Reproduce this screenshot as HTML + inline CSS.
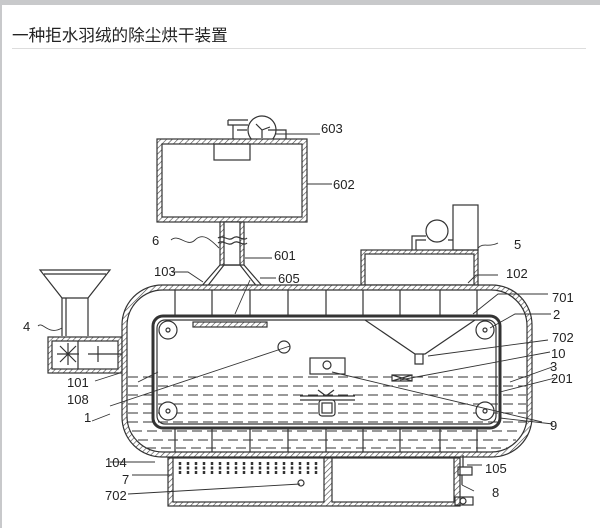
<!DOCTYPE html>
<html><head><meta charset="utf-8"><style>
html,body{margin:0;padding:0;background:#c8c9cb;}
.card{position:absolute;left:2px;top:5px;width:598px;height:523px;background:#fff;}
.t{position:absolute;left:12px;top:22px;font:16.6px "Liberation Sans","Noto Sans CJK SC",sans-serif;color:#222;}
.hr{position:absolute;left:12px;top:48px;width:574px;height:1px;background:#ddd;}
svg{position:absolute;left:0;top:0;}
text{font-family:"Liberation Sans",sans-serif;font-size:13px;fill:#222;}
</style></head><body>
<div class="card"></div>
<div class="t">一种拒水羽绒的除尘烘干装置</div>
<div class="hr"></div>
<svg width="600" height="528" viewBox="0 0 600 528">
<defs>
<pattern id="h" width="4" height="4" patternUnits="userSpaceOnUse" patternTransform="rotate(45)">
<rect width="4" height="4" fill="#fff"/><line x1="0" y1="0" x2="0" y2="4" stroke="#444" stroke-width="1.2"/></pattern>
</defs>
<g fill="none" stroke="#333" stroke-width="1.2">
<path d="M228 120h20M228 120v5h20M233 125v22M237 130h10M268 130h18v10h-18"/>
<circle cx="262" cy="130" r="14"/>
<path d="M262 130l-6 -6M262 130l8 -3M262 130l0 8"/>
<rect x="157" y="139" width="150" height="83" fill="url(#h)"/>
<rect x="162" y="144" width="140" height="73" fill="#fff"/>
<rect x="214" y="144" width="36" height="16"/>
<rect x="220" y="222" width="24" height="43" fill="url(#h)"/>
<rect x="224" y="222" width="16" height="43" fill="#fff"/>
<path d="M218 238c5-4 10 4 15 0s10 4 14 0M218 243c5-4 10 4 15 0s10 4 14 0"/>
<path d="M220 265L200 288M224 265L206 288M244 265L264 288M240 265L258 288M224 265h16" />
<rect x="361" y="250" width="117" height="35" fill="url(#h)"/>
<rect x="365" y="254" width="109" height="31" fill="#fff"/>
<rect x="453" y="205" width="25" height="45"/>
<circle cx="437" cy="231" r="11"/>
<path d="M412 250v-14h14M416 250v-10h10M448 240h5"/>
<path d="M40 270h70l-22 28h-26z" />
<path d="M44 274h62M62 298v38M88 298v38M66 298v38"/>
<rect x="48" y="337" width="74" height="36" fill="url(#h)"/>
<rect x="52" y="341" width="66" height="28" fill="#fff"/>
<path d="M78 341v28M60 346l16 16M60 362l16-16M57 354h22M68 343v22M88 354h34M98 346v16M122 344h30M122 366h30"/>
<rect x="122" y="285" width="410" height="172" rx="40" fill="url(#h)"/>
<rect x="127" y="290" width="400" height="162" rx="36" fill="#fff"/>
<path d="M175 290v26M212 290v26M250 290v26M288 290v26M326 290v26M363 290v26M400 290v26M440 290v26M477 290v26"/>
<path d="M175 428v24M212 428v24M250 428v24M288 428v24M326 428v24M363 428v24M400 428v24M440 428v24M477 428v24"/>
<path stroke-dasharray="10 5" stroke-width="1" d="M128 377h398M128 386h398M128 395h398M128 404h398M128 413h398M128 422h398M132 431h390M138 440h378M146 448h362"/>
<rect x="153" y="316" width="347" height="112" rx="10" stroke-width="3"/>
<rect x="157" y="320" width="339" height="104" rx="8"/>
<circle cx="168" cy="330" r="9" fill="#fff"/><circle cx="168" cy="330" r="2"/>
<circle cx="485" cy="330" r="9" fill="#fff"/><circle cx="485" cy="330" r="2"/>
<circle cx="168" cy="411" r="9" fill="#fff"/><circle cx="168" cy="411" r="2"/>
<circle cx="485" cy="411" r="9" fill="#fff"/><circle cx="485" cy="411" r="2"/>
<rect x="193" y="322" width="74" height="5" fill="url(#h)"/>
<path d="M365 320l50 34h10l50-34M415 354v10h8v-10"/>
<circle cx="284" cy="347" r="6"/>
<rect x="310" y="358" width="35" height="16" fill="#fff"/><circle cx="327" cy="365" r="4"/>
<rect x="392" y="375" width="20" height="6" fill="#fff"/><path d="M392 375l20 6M392 381l20-6"/>
<path d="M300 396h55M300 400h55M318 390l8 6 8-6"/>
<rect x="319" y="400" width="16" height="16" rx="3" fill="#fff"/><rect x="322" y="403" width="10" height="10"/>
<rect x="168" y="458" width="292" height="48" fill="url(#h)"/>
<rect x="173" y="458" width="151" height="44" fill="#fff"/>
<rect x="332" y="458" width="122" height="44" fill="#fff"/>
<path d="M180 462v12M188 462v12M196 462v12M204 462v12M212 462v12M220 462v12M228 462v12M236 462v12M244 462v12M252 462v12M260 462v12M268 462v12M276 462v12M284 462v12M292 462v12M300 462v12M308 462v12M316 462v12" stroke-width="2.5" stroke-dasharray="3 1.5"/>
<circle cx="301" cy="483" r="3"/>
<path d="M463 455v12M458 467h14v8h-14zM462 475v10"/>
<rect x="455" y="497" width="18" height="8"/><circle cx="463" cy="501" r="3"/>
<path stroke-width="0.9" d="M275 134h45M307 184h25M245 258h27M171 240c8-7 16 8 24 0s16 0 24 8M172 272h16l15 10M250 280l-15 34M260 278h16M478 248c6-6 10 0 20-5M468 283l8-8h22M473 314l25-20h50M490 328l25-14h36M428 356l120-16M400 380l150-28M510 382l45-16M500 392l55-14M500 418l53 6M332 372l210 50M290 346l-180 60M158 372l-20 10M120 373l-25 8M110 414l-18 7M38 326c5-5 10 10 24 2M155 462h-45M172 475h-40M300 484l-172 10M467 465h15M462 485l12 6"/>
</g>
<text x="321" y="133">603</text>
<text x="333" y="189">602</text>
<text x="152" y="245">6</text>
<text x="274" y="260">601</text>
<text x="154" y="276">103</text>
<text x="278" y="283">605</text>
<text x="514" y="249">5</text>
<text x="506" y="278">102</text>
<text x="552" y="302">701</text>
<text x="553" y="319">2</text>
<text x="552" y="342">702</text>
<text x="551" y="358">10</text>
<text x="550" y="371">3</text>
<text x="551" y="383">201</text>
<text x="550" y="430">9</text>
<text x="23" y="331">4</text>
<text x="67" y="387">101</text>
<text x="67" y="404">108</text>
<text x="84" y="422">1</text>
<text x="105" y="467">104</text>
<text x="122" y="484">7</text>
<text x="105" y="500">702</text>
<text x="485" y="473">105</text>
<text x="492" y="497">8</text>
</svg>
</body></html>
